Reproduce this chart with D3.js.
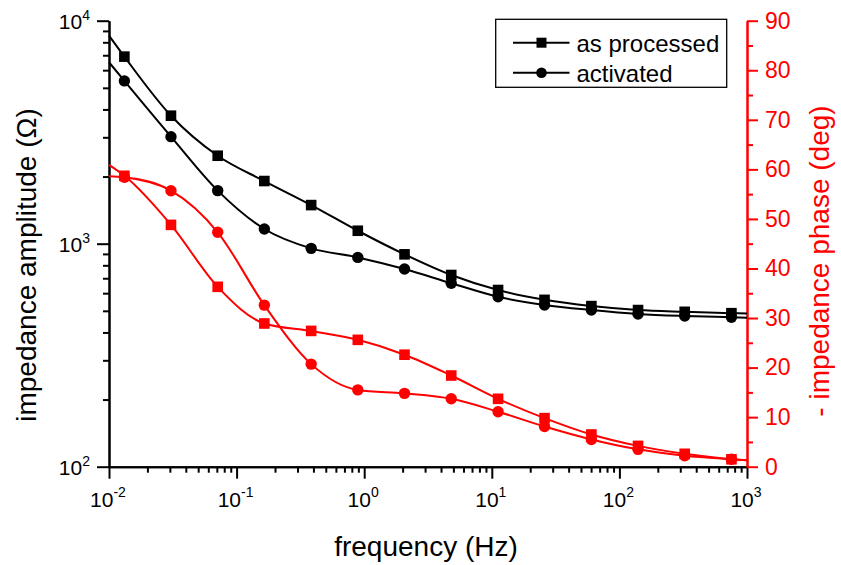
<!DOCTYPE html>
<html>
<head>
<meta charset="utf-8">
<script src="https://cdn.jsdelivr.net/npm/d3@7"></script>
<style>
  body { margin: 0; background: #fff; }
  text { font-family: "Liberation Sans", Arial, sans-serif; }
</style>
</head>
<body>
<div id="cnt"></div>
<script>
// frecuencias de los marcadores (Hz)
let freq = [0.0132, 0.0306, 0.0711, 0.165, 0.384, 0.891, 2.07, 4.81, 11.2, 25.9, 60.3, 140, 325, 755];
// extremos de las curvas
let fIni = 0.01, fFin = 1000;

// amplitud (ohm)
let ampProc = [6900, 3750, 2480, 1910, 1490, 1143, 896, 724, 620, 560, 525, 504, 495, 488];
let ampAct  = [5370, 3020, 1730, 1164, 953, 868, 770, 665, 578, 531, 504, 484, 474, 468];
let ampProcIni = 8570, ampProcFin = 486;
let ampActIni  = 6510, ampActFin  = 466;

// - fase (deg)
let faseProc = [58.7, 48.8, 36.3, 28.9, 27.4, 25.6, 22.6, 18.4, 13.7, 9.8, 6.5, 4.2, 2.6, 1.5];
let faseAct  = [58.4, 55.7, 47.3, 32.6, 20.7, 15.5, 14.8, 13.7, 11.1, 8.1, 5.5, 3.5, 2.2, 1.5];
let faseProcIni = 60.9, faseProcFin = 1.3;
let faseActIni  = 58.6, faseActFin  = 1.3;

let xMaj = [0.01, 0.1, 1, 10, 100, 1000];
let xExp = ["-2", "-1", "0", "1", "2", "3"];
let yMaj = [100, 1000, 10000];
let yExp = ["2", "3", "4"];
let yDer = [0, 10, 20, 30, 40, 50, 60, 70, 80, 90];

let leyenda = ["as processed", "activated"];

let ancho = 841, largo = 565;
let rojo = "#ff0000";

let x = d3.scaleLog().domain([0.01, 1000]).range([109, 747]);
let yL = d3.scaleLog().domain([100, 10000]).range([466.7, 20.7]);
let yR = d3.scaleLinear().domain([0, 90]).range([466.7, 20.7]);

let svg = d3.select('#cnt')
    .append("svg")
    .attr('width', ancho)
    .attr('height', largo)

//Ejes
function estilo(g, color) {
    g.selectAll("path, line").attr("stroke", color).attr("stroke-width", 2);
    g.select(".domain").attr("stroke-width", 2);
}

let xMin = x.ticks().filter(d => xMaj.indexOf(d) < 0);
svg.append("g").attr("transform", "translate(0,466.7)")
    .call(d3.axisBottom(x).tickValues(xMin).tickSize(6).tickSizeOuter(0).tickFormat(""))
    .call(g => estilo(g, "black"));
svg.append("g").attr("transform", "translate(0,466.7)")
    .call(d3.axisBottom(x).tickValues(xMaj).tickSize(12).tickSizeOuter(0).tickFormat(""))
    .call(g => estilo(g, "black"));

let yMin = yL.ticks().filter(d => yMaj.indexOf(d) < 0);
svg.append("g").attr("transform", "translate(109,0)")
    .call(d3.axisLeft(yL).tickValues(yMin).tickSize(6).tickSizeOuter(0).tickFormat(""))
    .call(g => estilo(g, "black"));
svg.append("g").attr("transform", "translate(109,0)")
    .call(d3.axisLeft(yL).tickValues(yMaj).tickSize(12).tickSizeOuter(0).tickFormat(""))
    .call(g => estilo(g, "black"));

let yRMin = d3.range(5, 90, 10);
svg.append("g").attr("transform", "translate(747,0)")
    .call(d3.axisRight(yR).tickValues(yRMin).tickSize(6).tickSizeOuter(0).tickFormat(""))
    .call(g => estilo(g, rojo));
svg.append("g").attr("transform", "translate(747,0)")
    .call(d3.axisRight(yR).tickValues(yDer).tickSize(11).tickSizeOuter(0).tickFormat(""))
    .call(g => estilo(g, rojo));

//Etiquetas
xMaj.forEach((d, i) => {
    let t = svg.append("text")
        .attr("x", x(d) - 1)
        .attr("y", 506.7)
        .attr("text-anchor", "middle")
        .style("font-size", "21px");
    t.append("tspan").text("10");
    t.append("tspan").attr("dy", -9.5).style("font-size", "14px").text(xExp[i]);
});
yMaj.forEach((d, i) => {
    let t = svg.append("text")
        .attr("x", 90)
        .attr("y", yL(d) + 8.5)
        .attr("text-anchor", "end")
        .style("font-size", "21px");
    t.append("tspan").text("10");
    t.append("tspan").attr("dy", -9.5).style("font-size", "14px").text(yExp[i]);
});
yDer.forEach(d => {
    svg.append("text")
        .attr("x", 765)
        .attr("y", yR(d) + 7.8)
        .style("font-size", "23px")
        .style("fill", rojo)
        .text(d);
});

svg.append("text")
    .attr("x", 426).attr("y", 556)
    .attr("text-anchor", "middle")
    .style("font-size", "28px")
    .text("frequency (Hz)");
svg.append("text")
    .attr("transform", "translate(36,265) rotate(-90)")
    .attr("text-anchor", "middle")
    .style("font-size", "28px")
    .text("impedance amplitude (Ω)");
svg.append("text")
    .attr("transform", "translate(829,261) rotate(-90)")
    .attr("text-anchor", "middle")
    .style("font-size", "28px")
    .style("fill", rojo)
    .text("- impedance phase (deg)");

//Curvas
function serie(vals, ini, fin) {
    let pts = [[fIni, ini]];
    vals.forEach((v, i) => pts.push([freq[i], v]));
    pts.push([fFin, fin]);
    return pts;
}

let lineaL = d3.line().x(d => x(d[0])).y(d => yL(d[1])).curve(d3.curveMonotoneX);
let lineaR = d3.line().x(d => x(d[0])).y(d => yR(d[1])).curve(d3.curveMonotoneX);

let series = [
    { pts: serie(ampProc, ampProcIni, ampProcFin), linea: lineaL, escala: yL, color: "black", forma: "sq" },
    { pts: serie(ampAct, ampActIni, ampActFin), linea: lineaL, escala: yL, color: "black", forma: "ci" },
    { pts: serie(faseProc, faseProcIni, faseProcFin), linea: lineaR, escala: yR, color: rojo, forma: "sq" },
    { pts: serie(faseAct, faseActIni, faseActFin), linea: lineaR, escala: yR, color: rojo, forma: "ci" }
];

series.forEach(s => {
    svg.append("path")
        .attr("d", s.linea(s.pts))
        .attr("fill", "none")
        .attr("stroke", s.color)
        .attr("stroke-width", 2);
});

series.forEach(s => {
    let m = s.pts.slice(1, -1);
    if (s.forma === "sq") {
        svg.selectAll(null).data(m).enter().append("rect")
            .attr("x", d => x(d[0]) - 5.3)
            .attr("y", d => s.escala(d[1]) - 5.3)
            .attr("width", 10.6).attr("height", 10.6)
            .attr("fill", s.color);
    } else {
        svg.selectAll(null).data(m).enter().append("circle")
            .attr("cx", d => x(d[0]))
            .attr("cy", d => s.escala(d[1]))
            .attr("r", 5.7)
            .attr("fill", s.color);
    }
});

//Leyenda
svg.append("rect")
    .attr("x", 495.7).attr("y", 19.3)
    .attr("width", 231).attr("height", 68)
    .attr("fill", "white")
    .attr("stroke", "black")
    .attr("stroke-width", 1.3);

leyenda.forEach((t, i) => {
    let yy = 42.7 + i * 30;
    svg.append("line")
        .attr("x1", 513).attr("x2", 569.5)
        .attr("y1", yy).attr("y2", yy)
        .attr("stroke", "black").attr("stroke-width", 2);
    if (i === 0) {
        svg.append("rect")
            .attr("x", 536.5).attr("y", yy - 5).attr("width", 10).attr("height", 10)
            .attr("fill", "black");
    } else {
        svg.append("circle")
            .attr("cx", 541.5).attr("cy", yy).attr("r", 5.3)
            .attr("fill", "black");
    }
    svg.append("text")
        .attr("x", 576.5).attr("y", yy + 8.8)
        .style("font-size", "24px")
        .text(t);
});
</script>
</body>
</html>
